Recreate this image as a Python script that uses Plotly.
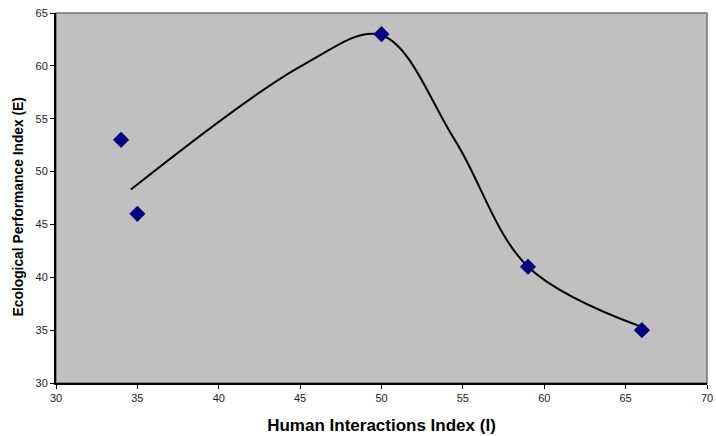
import plotly.graph_objects as go

# Observed data
human_index = [34, 35, 50, 59, 66]
eco_index = [53, 46, 63, 41, 35]

# Smoothed trend line knots
trend_x = [34.6, 45.2, 50.0, 54.5, 59.0, 66.0]
trend_y = [48.3, 60.1, 62.9, 53.0, 41.0, 35.3]

x_ticks = [30, 35, 40, 45, 50, 55, 60, 65, 70]
y_ticks = [30, 35, 40, 45, 50, 55, 60, 65]

FONT = "Liberation Sans, Arial, sans-serif"

fig = go.Figure()

fig.add_trace(go.Scatter(
    x=trend_x, y=trend_y, mode="lines",
    line=dict(color="black", width=2, shape="spline", smoothing=1.0),
    hoverinfo="skip", showlegend=False,
))

fig.add_trace(go.Scatter(
    x=human_index, y=eco_index, mode="markers",
    marker=dict(symbol="diamond", size=12, color="#000080",
                line=dict(color="#000060", width=0.5)),
    showlegend=False,
))

# plot-area frame: grey fill with a grey border on top/right
fig.add_shape(type="rect", xref="paper", yref="paper", x0=0, y0=0, x1=1, y1=1,
              fillcolor="#C0C0C0", line=dict(color="#707070", width=1.5), layer="below")

axis_font = dict(family=FONT, size=11, color="#222222")

fig.update_xaxes(
    range=[30, 70], tickvals=x_ticks, ticktext=[str(v) for v in x_ticks],
    showgrid=False, zeroline=False, automargin=False,
    showline=True, linecolor="black", linewidth=2,
    ticks="outside", ticklen=4, tickcolor="black", tickwidth=1,
    tickfont=axis_font,
    title=dict(text="<b>Human Interactions Index (I)</b>",
               font=dict(family=FONT, size=17, color="black"),
               standoff=16),
)
fig.update_yaxes(
    range=[30, 65], tickvals=y_ticks, ticktext=[str(v) for v in y_ticks],
    showgrid=False, zeroline=False, automargin=False,
    showline=True, linecolor="black", linewidth=2,
    ticks="outside", ticklen=4, tickcolor="black", tickwidth=1,
    tickfont=axis_font,
)

# vertical axis title, sitting slightly below the plot's mid-height
fig.add_annotation(
    text="<b>Ecological Performance Index (E)</b>",
    xref="paper", yref="paper", x=-0.0576, y=0.476,
    xanchor="center", yanchor="middle", textangle=-90, showarrow=False,
    font=dict(family=FONT, size=13.8, color="black"),
)

fig.update_layout(
    width=716, height=436,
    margin=dict(l=56, r=9, t=13, b=53),
    paper_bgcolor="white", plot_bgcolor="rgba(0,0,0,0)",
)

fig.write_html("out.html")
